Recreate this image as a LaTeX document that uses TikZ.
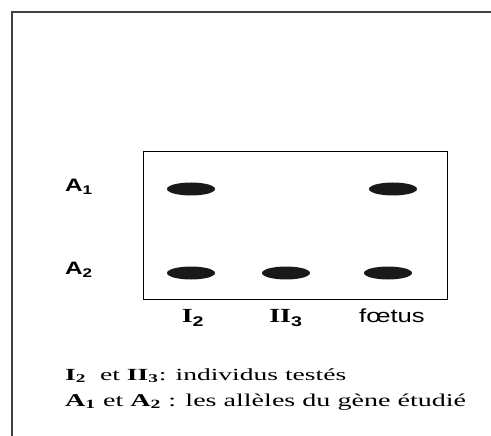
\documentclass[tikz,border=0pt]{standalone}
\usepackage{fontspec}
\usepackage{graphicx}
\usetikzlibrary{shapes.geometric}
\setmainfont{Liberation Serif}
\newfontfamily\arialf{Liberation Sans}
\newcommand{\hstretch}[2]{\scalebox{#1}[1]{#2}}
\begin{document}
\begin{tikzpicture}[x=1pt,y=-1pt,
  band/.style={fill=black!90, ellipse, minimum width=48pt, minimum height=13pt, inner sep=0pt},
  alab/.style={font=\arialf\bfseries\fontsize{18}{22}\selectfont, inner sep=0pt, anchor=base},
  lane/.style={font=\bfseries\fontsize{20}{24}\selectfont, inner sep=0pt, anchor=base},
  leg/.style={inner sep=0pt, anchor=base west}]
\useasboundingbox (0,0) rectangle (491,436);
% outer frame
\coordinate (fo) at (12,12);
\coordinate (fr) at (491,12);
\coordinate (fb) at (12,436);
\draw[line width=1.4pt, black!75] (fr) -- (fo) -- (fb);
% gel box
\node[draw, line width=1pt, minimum width=304pt, minimum height=147pt, inner sep=0pt] (gel) at (295.5,225.5) {};
% bands
\node[band] (b11) at (191,189) {};
\node[band] (b31) at (393,189) {};
\node[band] (b12) at (191,273) {};
\node[band] (b22) at (286,273) {};
\node[band] (b32) at (388,273) {};
% allele labels
\node[alab] (a1) at (79,192) {\hstretch{1.35}{A\textsubscript{1}}};
\node[alab] (a2) at (79,275) {\hstretch{1.35}{A\textsubscript{2}}};
% lane labels
\node[lane] (l1) at (193,323) {\hstretch{1.4}{I\textsubscript{\arialf 2}}};
\node[lane] (l2) at (286,323) {\hstretch{1.4}{II\textsubscript{\arialf 3}}};
\node[lane, font=\arialf\fontsize{19}{22}\selectfont] (l3) at (392,322) {\hstretch{1.35}{fœtus}};
% legend
\node[leg, font=\fontsize{17}{19}\selectfont] (t1) at (65,380) {\hstretch{1.62}{\textbf{I\textsubscript{2}}\ \ et \textbf{II\textsubscript{3}}: individus testés}};
\node[leg, font=\fontsize{18}{21}\selectfont] (t2) at (65,406) {\hstretch{1.56}{\textbf{A\textsubscript{1}} et \textbf{A\textsubscript{2}} : les allèles du gène étudié}};
\end{tikzpicture}
\end{document}
